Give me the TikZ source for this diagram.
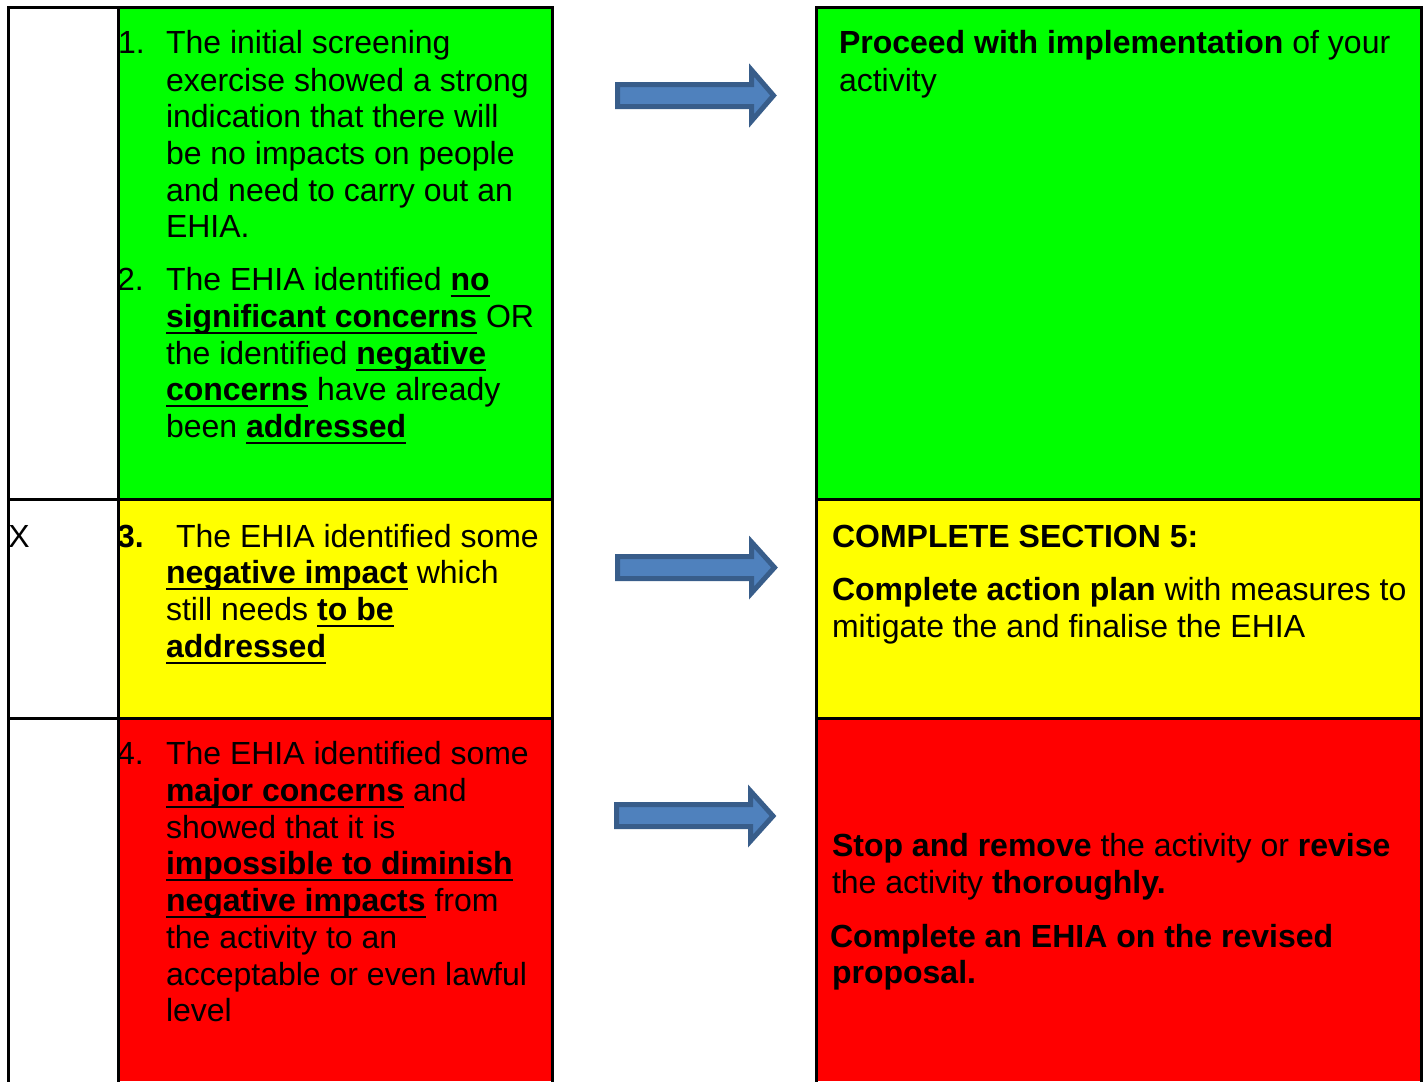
\documentclass[tikz,border=0pt]{standalone}
\usepackage{fontspec}
\setmainfont{Liberation Sans}
\definecolor{cgreen}{HTML}{00FF00}
\definecolor{cyellow}{HTML}{FFFF00}
\definecolor{cred}{HTML}{FF0000}
\definecolor{arrfill}{HTML}{4F81BD}
\definecolor{arrline}{HTML}{385D8A}
\newcommand\ulb[1]{\setbox0\hbox{\bfseries #1}\rlap{\rule[-5.3pt]{\wd0}{1.9pt}}\box0\relax}
\newcommand\fsz{\fontsize{24}{27.75}\selectfont}
\tikzset{
  txt/.style={anchor=base west, inner sep=0pt, outer sep=0pt, font=\fsz},
  cellborder/.style={draw=black, line width=2.25pt, line cap=rect},
  blockarrow/.style={fill=arrfill, draw=arrline, line width=3.75pt, line join=miter}
}
\begin{document}
\begin{tikzpicture}[x=0.75pt, y=-0.75pt]
\useasboundingbox (0,0) rectangle (1426,1081);
% fills
\fill[cgreen] (118,8) rectangle (552,499);
\fill[cyellow] (118,499) rectangle (552,718);
\fill[cred] (118,718) rectangle (552,1081);
\fill[cgreen] (816,8) rectangle (1421,499);
\fill[cyellow] (816,499) rectangle (1421,718);
\fill[cred] (816,718) rectangle (1421,1081);

% left column
\node[txt] (x) at (8.5,547) {X};

% middle green
\node[txt] (n1) at (118,54) {1.};
\node[txt] (a1) at (166,54) {The initial screening};
\node[txt] (a2) at (166,91) {exercise showed a strong};
\node[txt] (a3) at (166,127) {indication that there will};
\node[txt] (a4) at (166,164) {be no impacts on people};
\node[txt] (a5) at (166,201) {and need to carry out an};
\node[txt] (a6) at (166,237) {EHIA.};
\node[txt] (n2) at (117,290) {2.};
\node[txt] (b1) at (166,290) {The EHIA identified \ulb{no}};
\node[txt] (b2) at (166,327) {\ulb{significant concerns} OR};
\node[txt] (b3) at (166,364) {the identified \ulb{negative}};
\node[txt] (b4) at (166,400) {\ulb{concerns} have already};
\node[txt] (b5) at (166,437) {been \ulb{addressed}};

% middle yellow
\node[txt] (n3) at (117,547) {\bfseries 3.};
\node[txt] (c1) at (176,547) {The EHIA identified some};
\node[txt] (c2) at (166,583) {\ulb{negative impact} which};
\node[txt] (c3) at (166,620) {still needs \ulb{to be}};
\node[txt] (c4) at (166,657) {\ulb{addressed}};

% middle red
\node[txt] (n4) at (117,764) {4.};
\node[txt] (d1) at (166,764) {The EHIA identified some};
\node[txt] (d2) at (166,801) {\ulb{major concerns} and};
\node[txt] (d3) at (166,838) {showed that it is};
\node[txt] (d4) at (166,874) {\ulb{impossible to diminish}};
\node[txt] (d5) at (166,911) {\ulb{negative impacts} from};
\node[txt] (d6) at (166,948) {the activity to an};
\node[txt] (d7) at (166,985) {acceptable or even lawful};
\node[txt] (d8) at (166,1021) {level};

% right green
\node[txt] (e1) at (839,54) {\textbf{Proceed with implementation} of your};
\node[txt] (e2) at (839,91) {activity};

% right yellow
\node[txt] (f1) at (832,547) {\bfseries COMPLETE SECTION 5:};
\node[txt] (f2) at (832,600) {\textbf{Complete action plan} with measures to};
\node[txt] (f3) at (832,637) {mitigate the and finalise the EHIA};

% right red
\node[txt] (g1) at (832,856) {\textbf{Stop and remove} the activity or \textbf{revise}};
\node[txt] (g2) at (832,893) {the activity \textbf{thoroughly.}};
\node[txt] (g3) at (830,947) {\bfseries Complete an EHIA on the revised};
\node[txt] (g4) at (832,983) {\bfseries proposal.};

% borders
\draw[cellborder] (8,1085) -- (8,8) -- (552,8) -- (552,1085);
\draw[cellborder] (118,8) -- (118,1085);
\draw[cellborder] (8,499) -- (552,499);
\draw[cellborder] (8,718) -- (552,718);
\draw[cellborder] (816,1085) -- (816,8) -- (1421,8) -- (1421,1085);
\draw[cellborder] (816,499) -- (1421,499);
\draw[cellborder] (816,718) -- (1421,718);

% block arrows
\draw[blockarrow] (617.5,84.5) -- (751.5,84.5) -- (751.5,70) -- (773.5,95.5) -- (751.5,121) -- (751.5,106.5) -- (617.5,106.5) -- cycle;
\draw[blockarrow] (617.5,556.5) -- (751.5,556.5) -- (751.5,542) -- (774.5,567.5) -- (751.5,593) -- (751.5,578.5) -- (617.5,578.5) -- cycle;
\draw[blockarrow] (616.5,804.5) -- (750.5,804.5) -- (750.5,791) -- (773,816) -- (750.5,841) -- (750.5,826.5) -- (616.5,826.5) -- cycle;
\end{tikzpicture}
\end{document}
